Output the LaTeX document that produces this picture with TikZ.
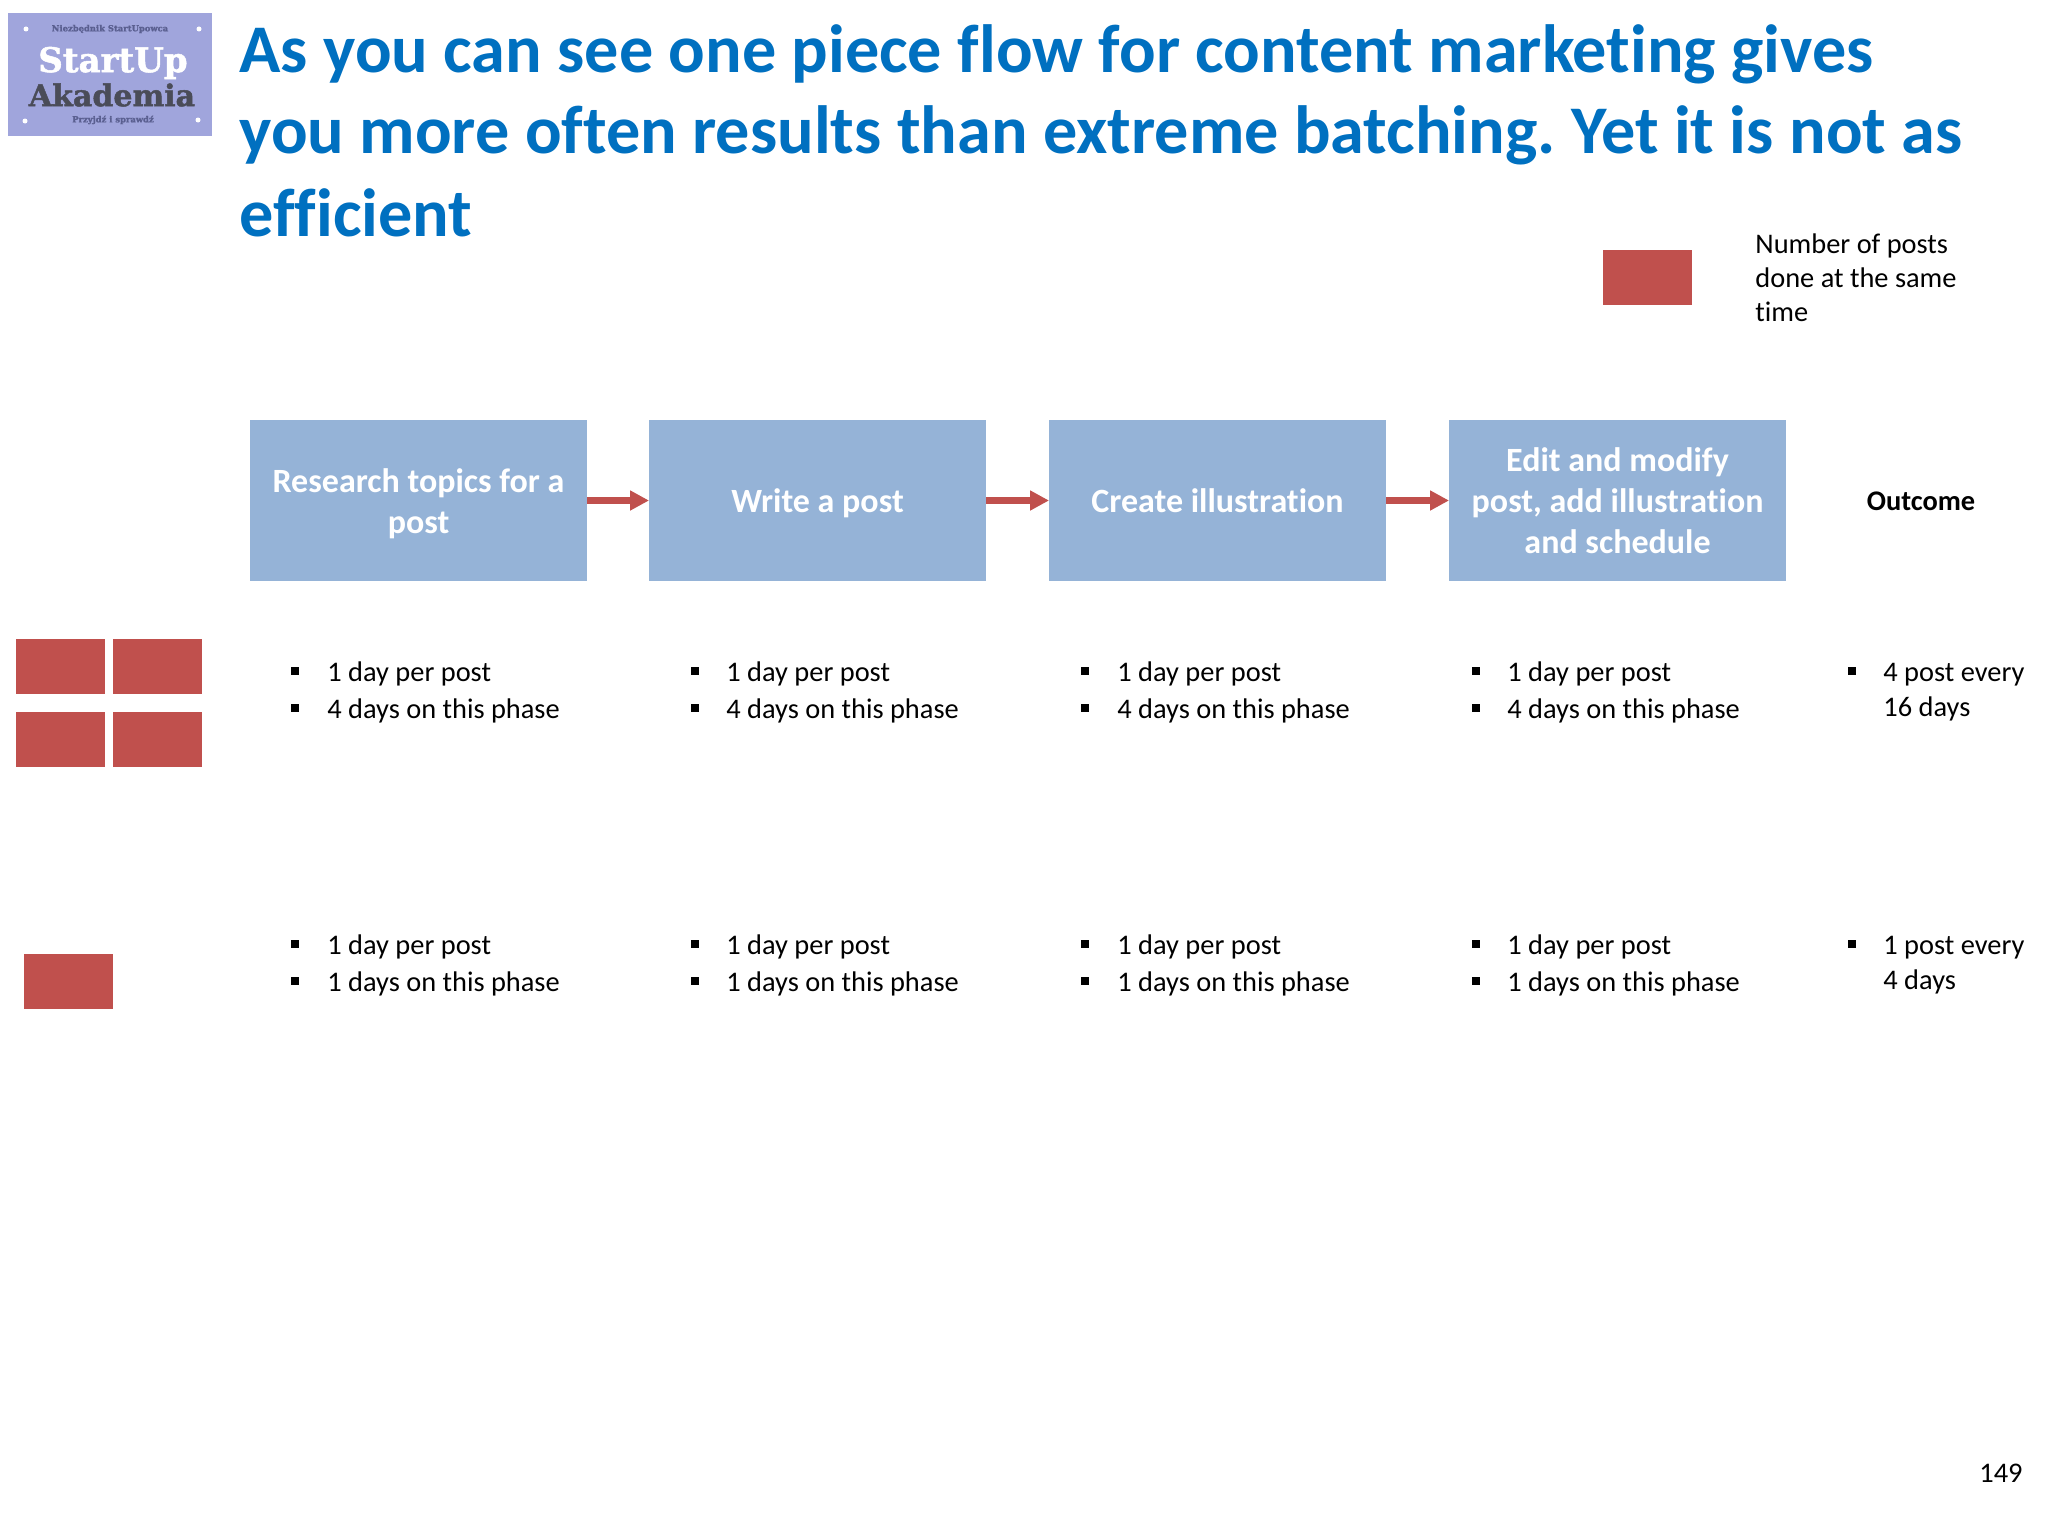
\documentclass[tikz,border=0pt]{standalone}
\usepackage{fontspec}
\setmainfont{Carlito}[Ligatures=CommonOff]
\newfontfamily\slabfont[FakeBold=1.5]{DejaVu Serif}
\usetikzlibrary{arrows.meta}
\definecolor{boxblue}{HTML}{95B3D7}
\definecolor{redbox}{HTML}{C0504D}
\definecolor{titleblue}{HTML}{0070C0}
\definecolor{logobg}{HTML}{A0A5DC}
\definecolor{logodark}{HTML}{4A4C58}
\definecolor{logomid}{HTML}{5A5F90}
\newcommand{\bxs}{\rule[-4.15pt]{0pt}{20.5pt}}
\tikzset{
  stepbox/.style={fill=boxblue,draw=none,minimum width=168.5pt,minimum height=80.5pt,inner sep=0pt,outer sep=0pt,anchor=north west,
    text=white,font=\fontsize{17}{20.5}\selectfont\bfseries,align=flush center,text width=166pt},
  redrect/.style={fill=redbox,draw=none,minimum width=44.5pt,minimum height=27.5pt,inner sep=0pt,anchor=north west},
  flow/.style={draw=redbox,line width=3.3pt,-{Triangle[length=9.5pt,width=9.5pt]}},
  titletext/.style={anchor=base west,inner sep=0pt,text=titleblue,font=\fontsize{34.1}{38}\selectfont\bfseries},
  bodytext/.style={anchor=base west,inner sep=0pt,text=black,font=\fontsize{14.2}{17}\selectfont},
  bulletmark/.style={fill=black,draw=none,minimum size=4.4pt,inner sep=0pt},
  logotext/.style={inner sep=0pt,font=\fontsize{4.2}{5}\slabfont\bfseries,text=logomid},
}
\newcommand{\bulletitem}[5]{%
  \node[bulletmark] (#1b) at (#2,#4-10) {};
  \node[bodytext] (#1t) at (#3,#4) {#5};
}
\frenchspacing
\begin{document}
\begin{tikzpicture}[x=0.5pt,y=-0.5pt]
\useasboundingbox (0,0) rectangle (2048,1536);
\fill[white] (0,0) rectangle (2048,1536);
% logo
\node[fill=logobg,draw=none,minimum width=102pt,minimum height=61.5pt,inner sep=0pt,anchor=north west] (logo) at (8,13) {};
\node[logotext] (logotop) at (110,29) {Niezbędnik StartUpowca};
\node[inner sep=0pt,text=white,font=\fontsize{17}{18}\slabfont\bfseries] (logostart) at (113,63) {StartUp};
\node[inner sep=0pt,text=logodark,font=\fontsize{15}{18}\slabfont\bfseries] (logoaka) at (112,95) {Akademia};
\node[logotext] (logobot) at (113,120) {Przyjdź i sprawdź};
\fill[white] (26,29) circle (2.5) (199,29) circle (2.5) (25,121) circle (2.5) (198,120) circle (2.5);
% title
\node[titletext] (t1) at (239,73) {As you can see one piece flow for content marketing gives};
\node[titletext] (t2) at (239,154) {you more often results than extreme batching. Yet it is not as};
\node[titletext] (t3) at (239,236) {efficient};
% legend
\node[redrect] (legend) at (1603,250) {};
\node[bodytext] (l1) at (1755,253) {Number of posts};
\node[bodytext] (l2) at (1755,287) {done at the same};
\node[bodytext] (l3) at (1755,321) {time};
% boxes
\node[stepbox] (s1) at (250,420) {\bxs Research topics for a\\\bxs post};
\node[stepbox] (s2) at (649,420) {\bxs Write a post};
\node[stepbox] (s3) at (1049,420) {\bxs Create illustration};
\node[stepbox] (s4) at (1449,420) {\bxs Edit and modify\\\bxs post, add illustration\\\bxs and schedule};
\draw[flow] (s1) -- (s2);
\draw[flow] (s2) -- (s3);
\draw[flow] (s3) -- (s4);
\node[anchor=center,inner sep=0pt,font=\fontsize{14.2}{17}\selectfont\bfseries] (outcome) at (1921,501) {Outcome};
% red squares
\node[redrect] (r1) at (16,639) {};
\node[redrect] (r2) at (113,639) {};
\node[redrect] (r3) at (16,712) {};
\node[redrect] (r4) at (113,712) {};
\node[redrect] (r5) at (24,954) {};
% row 1
\bulletitem{aa}{295}{327}{681}{1 day per post}
\bulletitem{ab}{295}{327}{718}{4 days on this phase}
\bulletitem{ba}{695}{726}{681}{1 day per post}
\bulletitem{bb}{695}{726}{718}{4 days on this phase}
\bulletitem{ca}{1085}{1117}{681}{1 day per post}
\bulletitem{cb}{1085}{1117}{718}{4 days on this phase}
\bulletitem{da}{1476}{1507}{681}{1 day per post}
\bulletitem{db}{1476}{1507}{718}{4 days on this phase}
\bulletitem{ea}{1852}{1883}{681}{4 post every}
\node[bodytext] (eb) at (1883,716) {16 days};
% row 2
\bulletitem{fa}{295}{327}{954}{1 day per post}
\bulletitem{fb}{295}{327}{991}{1 days on this phase}
\bulletitem{ga}{695}{726}{954}{1 day per post}
\bulletitem{gb}{695}{726}{991}{1 days on this phase}
\bulletitem{ha}{1085}{1117}{954}{1 day per post}
\bulletitem{hb}{1085}{1117}{991}{1 days on this phase}
\bulletitem{ia}{1476}{1507}{954}{1 day per post}
\bulletitem{ib}{1476}{1507}{991}{1 days on this phase}
\bulletitem{ja}{1852}{1883}{954}{1 post every}
\node[bodytext] (jb) at (1883,989) {4 days};
% page number
\node[bodytext,anchor=base east] (page) at (2023,1482) {149};
\end{tikzpicture}
\end{document}
